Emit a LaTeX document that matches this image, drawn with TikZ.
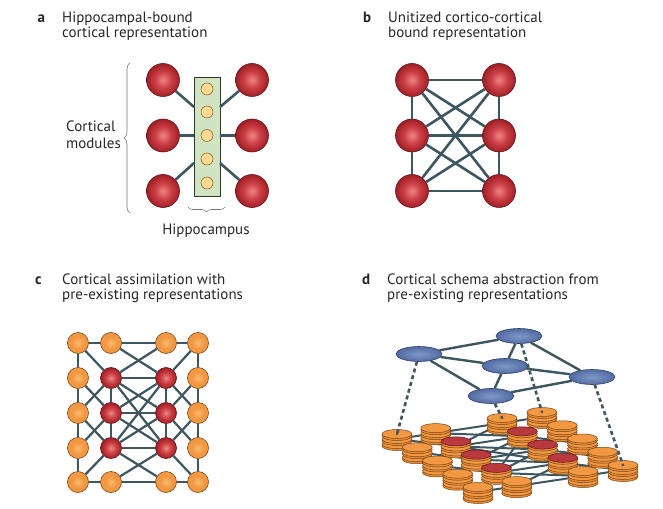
\documentclass[tikz,border=0pt]{standalone}
\usepackage{fontspec}
\setmainfont{PT Sans}
\usetikzlibrary{decorations.pathreplacing,shapes.geometric,calc}
\definecolor{linkc}{RGB}{62,86,96}
\definecolor{redA}{RGB}{238,135,132}
\definecolor{redB}{RGB}{205,65,70}
\definecolor{redC}{RGB}{160,30,38}
\definecolor{redO}{RGB}{100,20,25}
\definecolor{orA}{RGB}{250,188,115}
\definecolor{orB}{RGB}{242,152,66}
\definecolor{orS}{RGB}{232,140,55}
\definecolor{orO}{RGB}{120,70,25}
\definecolor{yel}{RGB}{252,218,145}
\definecolor{yelO}{RGB}{150,105,45}
\definecolor{grn}{RGB}{208,228,196}
\definecolor{grnO}{RGB}{40,60,40}
\definecolor{blA}{RGB}{128,152,200}
\definecolor{blB}{RGB}{82,107,162}
\definecolor{blO}{RGB}{45,65,110}
\definecolor{braceC}{RGB}{120,120,120}
\pgfdeclareradialshading{redball}{\pgfpoint{0bp}{0bp}}{color(0bp)=(redA); color(12bp)=(redB); color(25bp)=(redC); color(50bp)=(redC)}
\pgfdeclareradialshading{orball}{\pgfpoint{0bp}{0bp}}{color(0bp)=(orA); color(14bp)=(orB); color(25bp)=(orB); color(50bp)=(orB)}
\pgfdeclareradialshading{blball}{\pgfpoint{0bp}{0bp}}{color(0bp)=(blA); color(25bp)=(blB); color(50bp)=(blB)}
\newcommand\dstack[3]{%
  \node[oside] (#1-3s) at ([yshift=-7bp]#2) {};
  \node[odisc] (#1-3) at ([yshift=-5bp]#2) {};
  \node[oside] (#1-2s) at ([yshift=-2bp]#2) {};
  \node[odisc] (#1-2) at (#2) {};
  \node[oside] (#1-1s) at ([yshift=3bp]#2) {};
  \node[#3] (#1-1) at ([yshift=5bp]#2) {};
}
\begin{document}
\begin{tikzpicture}[x=1bp,y=-1bp,
  txt/.style={font=\fontsize{15bp}{17bp}\selectfont, inner sep=0, text=black!85},
  lbl/.style={font=\fontsize{15bp}{17bp}\selectfont\bfseries, inner sep=0, text=black!85},
  rball/.style={circle, draw=redO, line width=0.6bp, shade, shading=redball, minimum size=33bp, inner sep=0},
  rsmall/.style={rball, minimum size=21bp},
  oball/.style={circle, draw=orO, line width=0.6bp, shade, shading=orball, minimum size=21bp, inner sep=0},
  hcirc/.style={circle, draw=yelO, line width=0.6bp, fill=yel, minimum size=12bp, inner sep=0},
  hrect/.style={draw=grnO, line width=0.8bp, fill=grn, minimum width=26bp, minimum height=119bp, inner sep=0},
  link/.style={draw=linkc, line width=2.6bp},
  clink/.style={draw=linkc, line width=2.2bp},
  dlink/.style={draw=linkc, line width=2bp},
  bracestyle/.style={draw=braceC, line width=0.6bp, decorate, decoration={brace, amplitude=6bp}},
  odisc/.style={ellipse, draw=orO, line width=0.5bp, fill=orB, minimum width=30bp, minimum height=9bp, inner sep=0},
  oside/.style={odisc, fill=orS},
  rdisc/.style={ellipse, draw=redO, line width=0.5bp, fill=redB!90!black, minimum width=30bp, minimum height=9bp, inner sep=0},
  bell/.style={ellipse, draw=blO, line width=0.6bp, shade, shading=blball, minimum width=46bp, minimum height=15bp, inner sep=0},
  dashl/.style={draw=linkc, line width=2.6bp, dash pattern=on 4bp off 3bp},
]
\useasboundingbox (0,0) rectangle (663,509);

% ---------------- panel a ----------------
\node[lbl, anchor=base west] (la) at (37.5,23) {a};
\node[txt, anchor=base west] (ta1) at (62,23) {Hippocampal-bound};
\node[txt, anchor=base west] (ta2) at (62,38) {cortical representation};

\node[hrect] (hip) at (207,136.5) {};
\foreach \i/\y in {1/89,2/112,3/135.5,4/159,5/183}
  \node[hcirc] (h\i) at (207,\y) {};
\coordinate (hw1) at (194,107);
\coordinate (hw3) at (194,163);
\coordinate (he1) at (220,107);
\coordinate (he3) at (220,163);
\node[rball] (aL1) at (163,80) {};
\node[rball] (aL2) at (163,135.5) {};
\node[rball] (aL3) at (163,191) {};
\node[rball] (aR1) at (252,80) {};
\node[rball] (aR2) at (252,135.5) {};
\node[rball] (aR3) at (252,191) {};
\draw[link] (aL1) -- (hw1);
\draw[link] (aL2) -- (aL2 -| hip.west);
\draw[link] (aL3) -- (hw3);
\draw[link] (aR1) -- (he1);
\draw[link] (aR2) -- (aR2 -| hip.east);
\draw[link] (aR3) -- (he3);

\coordinate (bb1) at (130,213);
\coordinate (bb2) at (130,63);
\draw[bracestyle] (bb1) -- (bb2);
\coordinate (hb1) at (225,207);
\coordinate (hb2) at (188,207);
\draw[bracestyle, decoration={brace, amplitude=5bp}] (hb1) -- (hb2);
\node[txt, anchor=west, align=left] (cm) at (66,135) {Cortical\\modules};
\node[txt, anchor=base] (hc) at (206,235) {Hippocampus};

% ---------------- panel b ----------------
\node[lbl, anchor=base west] (lb) at (363,23) {b};
\node[txt, anchor=base west] (tb1) at (388,23) {Unitized cortico-cortical};
\node[txt, anchor=base west] (tb2) at (388,38) {bound representation};
\node[rball] (b1) at (412,80) {};
\node[rball] (b2) at (412,135.5) {};
\node[rball] (b3) at (412,191) {};
\node[rball] (b4) at (499,80) {};
\node[rball] (b5) at (499,135.5) {};
\node[rball] (b6) at (499,191) {};
\foreach \u/\v in {1/2,2/3,4/5,5/6,1/4,2/5,3/6,1/5,1/6,2/4,2/6,3/4,3/5}
  \draw[link] (b\u) -- (b\v);

% ---------------- panel c ----------------
\node[lbl, anchor=base west] (lc) at (35,284) {c};
\node[txt, anchor=base west] (tc1) at (62,284) {Cortical assimilation with};
\node[txt, anchor=base west] (tc2) at (62,299) {pre-existing representations};
\def\colx{{0,78,111,166,198}}
\def\rowy{{0,343,378,413,448,482}}
\foreach \r in {1,...,5}{
  \foreach \c in {1,...,4}{
    \pgfmathsetmacro\xx{\colx[\c]}
    \pgfmathsetmacro\yy{\rowy[\r]}
    \pgfmathtruncatemacro\isred{(\r>1)*(\r<5)*(\c>1)*(\c<4)}
    \ifnum\isred=1
      \node[rsmall] (c\r\c) at (\xx,\yy) {};
    \else
      \node[oball] (c\r\c) at (\xx,\yy) {};
    \fi
  }
}
\def\gridedges{11/12,12/13,13/14,51/52,52/53,53/54,
  11/21,21/31,31/41,41/51,14/24,24/34,34/44,44/54,
  11/22,12/23,13/22,14/23,51/42,52/43,53/42,54/43,
  21/32,31/22,31/42,41/32,24/33,34/23,34/43,44/33,
  22/32,32/42,23/33,33/43,22/23,32/33,42/43,
  22/33,22/43,23/32,23/42,32/43,33/42}
\foreach \u/\v in \gridedges
  \draw[clink] (c\u) -- (c\v);

% ---------------- panel d ----------------
\node[lbl, anchor=base west] (ld) at (362,284) {d};
\node[txt, anchor=base west] (td1) at (387,284) {Cortical schema abstraction from};
\node[txt, anchor=base west] (td2) at (387,299) {pre-existing representations};

\begin{scope}[shift={(397,439)}, x={(145bp,22bp)}, y={(81bp,-53bp)}]
  \foreach \r in {1,...,5}{
    \foreach \c/\f in {1/0,2/0.267,3/0.725,4/1}{
      \coordinate (d\r\c) at (\f,{(\r-1)/4});
    }
  }
\end{scope}
\foreach \u/\v in \gridedges
  \draw[dlink] (d\u) -- (d\v);

\dstack{s14}{d14}{odisc}
\dstack{s13}{d13}{odisc}
\dstack{s24}{d24}{odisc}
\dstack{s12}{d12}{odisc}
\dstack{s23}{d23}{rdisc}
\dstack{s11}{d11}{odisc}
\dstack{s34}{d34}{odisc}
\dstack{s22}{d22}{rdisc}
\dstack{s33}{d33}{rdisc}
\dstack{s21}{d21}{odisc}
\dstack{s44}{d44}{odisc}
\dstack{s32}{d32}{rdisc}
\dstack{s43}{d43}{rdisc}
\dstack{s31}{d31}{odisc}
\dstack{s54}{d54}{odisc}
\dstack{s42}{d42}{rdisc}
\dstack{s53}{d53}{odisc}
\dstack{s41}{d41}{odisc}
\dstack{s52}{d52}{odisc}
\dstack{s51}{d51}{odisc}

\node[bell] (e1) at (419,354) {};
\node[bell] (e2) at (519,336) {};
\node[bell] (e3) at (505,366) {};
\node[bell] (e4) at (592,377) {};
\node[bell] (e5) at (491,396) {};

\draw[dashl] (e1) -- (s11-1.center);
\draw[dashl] (e5) -- (s13-1.center);
\draw[dashl] (e2) -- (s14-1.center);
\draw[dashl] (e4) -- (s54-1.center);
\foreach \n in {s11,s13,s14,s54}
  \fill[linkc] (\n-1.center) circle (1.3bp);
\foreach \u/\v in {1/2,1/3,1/5,2/3,2/4,3/4,3/5,5/4}
  \draw[dlink, line width=2.4bp] (e\u) -- (e\v);
\end{tikzpicture}
\end{document}
